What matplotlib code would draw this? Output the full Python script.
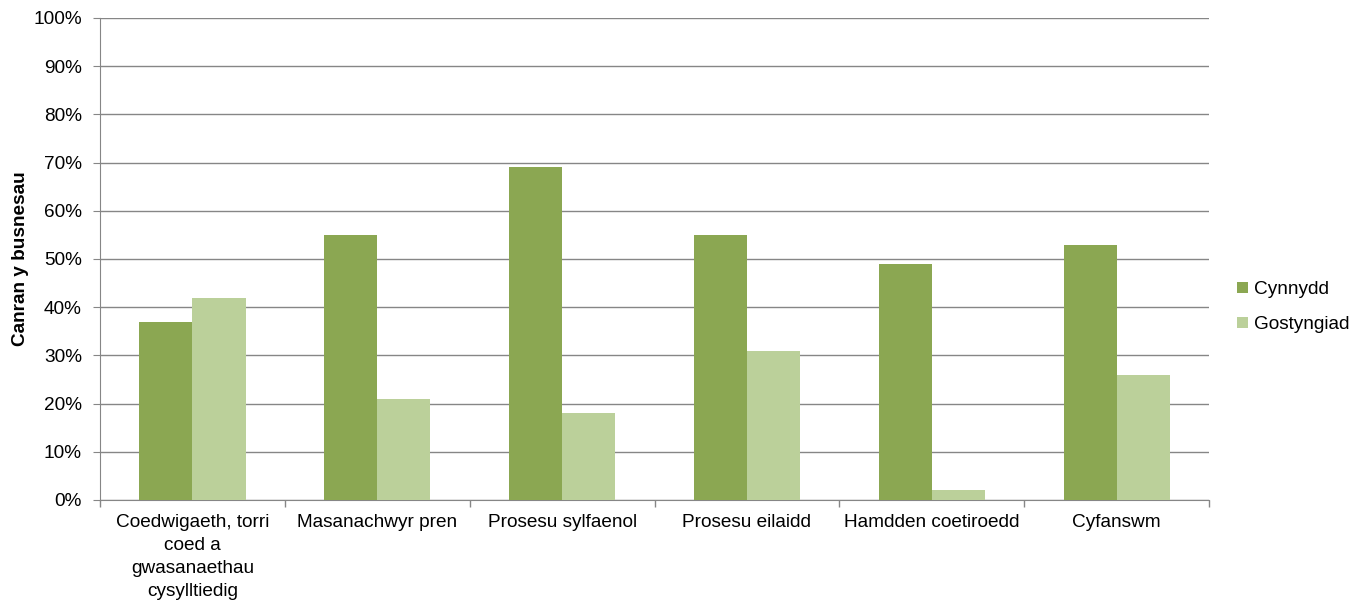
import numpy as np
import matplotlib.pyplot as plt
from matplotlib.ticker import FixedLocator, PercentFormatter

plt.rcParams['font.family'] = ['Liberation Sans', 'DejaVu Sans']

# Data
categories = ['Coedwigaeth, torri\ncoed a\ngwasanaethau\ncysylltiedig',
              'Masanachwyr pren', 'Prosesu sylfaenol', 'Prosesu eilaidd',
              'Hamdden coetiroedd', 'Cyfanswm']
cynnydd = [37, 55, 69, 55, 49, 53]
gostyngiad = [42, 21, 18, 31, 2, 26]

dark_green = '#8BA752'
light_green = '#BBD09A'
grid_col = '#868686'
fs = 13.7

fig = plt.figure(figsize=(13.65, 6.04), dpi=100)
ax = fig.add_axes([0.0733, 0.1722, 0.8124, 0.798])

x = np.arange(len(categories))
w = 0.287
ax.bar(x - w / 2, cynnydd, w, color=dark_green, label='Cynnydd', zorder=3)
ax.bar(x + w / 2, gostyngiad, w, color=light_green, label='Gostyngiad', zorder=3)

ax.set_xlim(-0.5, len(categories) - 0.5)
ax.set_ylim(0, 100)
ax.set_yticks(np.arange(0, 101, 10))
ax.yaxis.set_major_formatter(PercentFormatter(decimals=0))
ax.yaxis.grid(True, color=grid_col, linewidth=1)
ax.set_axisbelow(True)

# category labels centred, ticks at boundaries
ax.set_xticks(x)
ax.set_xticklabels(categories, fontsize=fs, linespacing=1.47)
ax.tick_params(axis='x', which='major', length=0, pad=10)
ax.xaxis.set_minor_locator(FixedLocator(np.arange(-0.5, len(categories), 1)))
ax.tick_params(axis='x', which='minor', length=5, color=grid_col, width=1)
ax.tick_params(axis='y', length=5, color=grid_col, labelsize=fs, pad=8)

for s in ['top', 'right']:
    ax.spines[s].set_visible(False)
for s in ['left', 'bottom']:
    ax.spines[s].set_color(grid_col)

ax.set_ylabel('Canran y busnesau', fontsize=fs, fontweight='bold', labelpad=3)

ax.legend(loc='center left', bbox_to_anchor=(1.01, 0.40), frameon=False,
          fontsize=fs, handlelength=0.55, handleheight=0.55, handletextpad=0.35,
          labelspacing=0.97)

fig.savefig('out.png', dpi=100)
